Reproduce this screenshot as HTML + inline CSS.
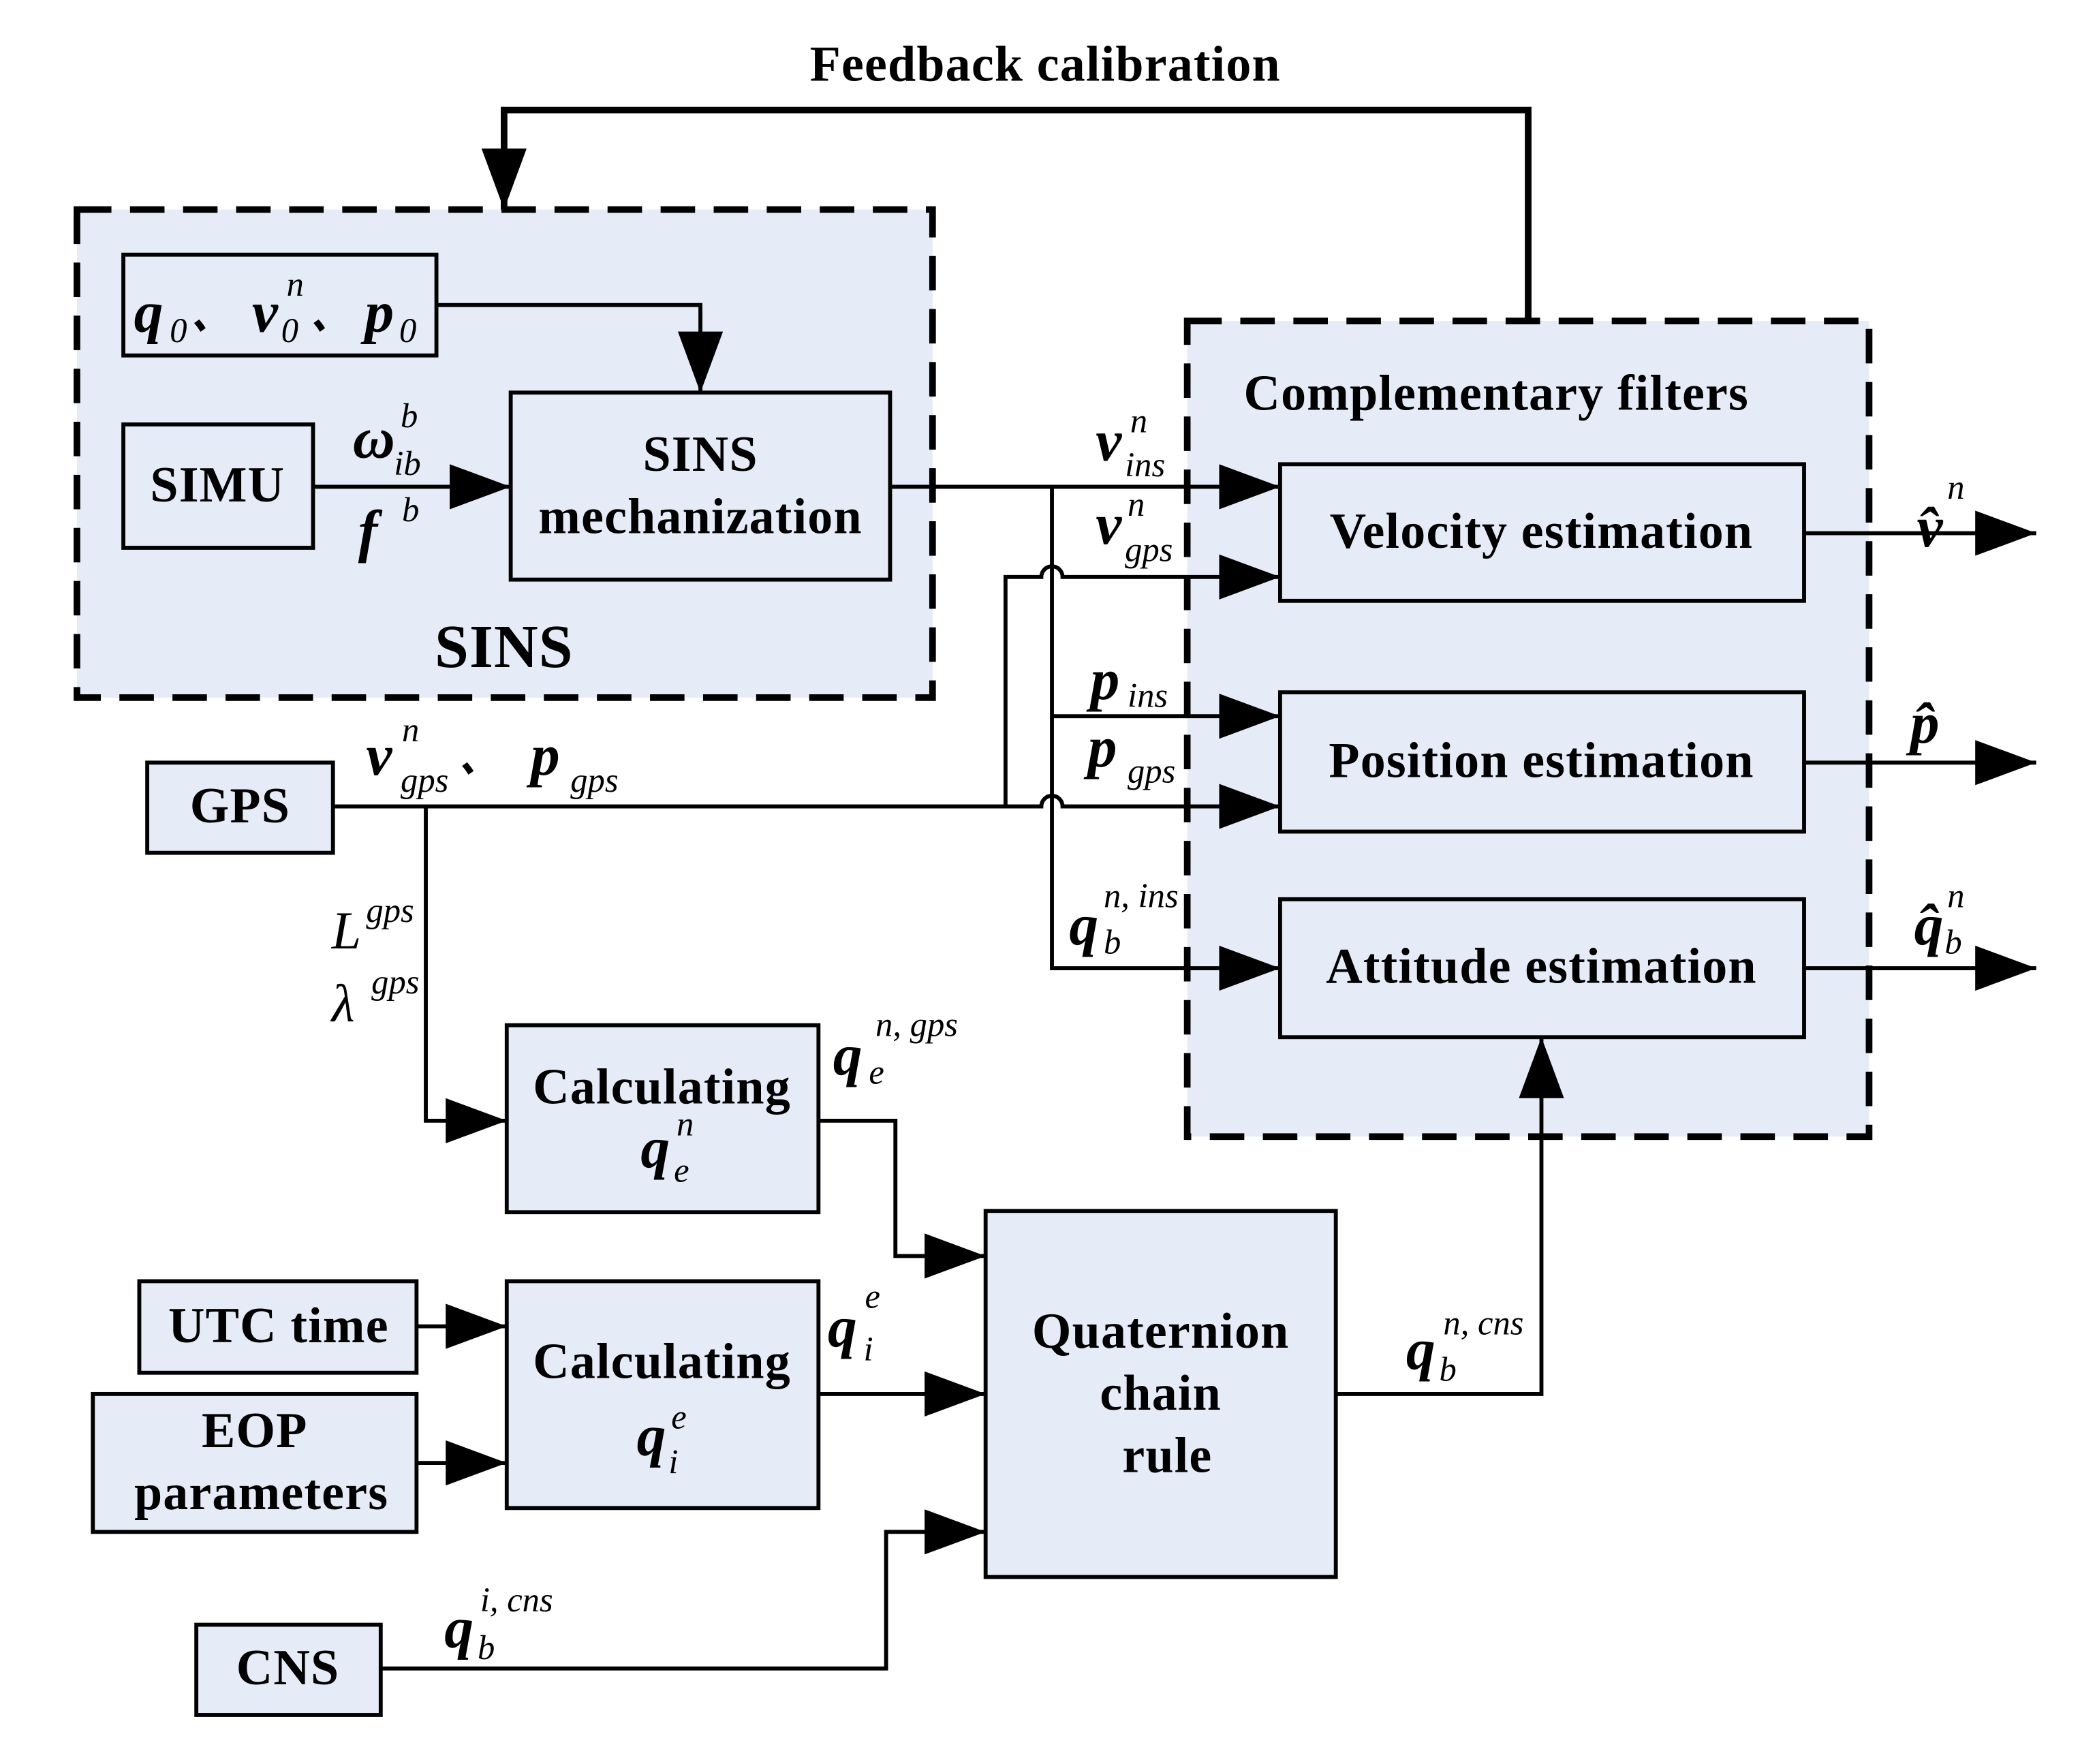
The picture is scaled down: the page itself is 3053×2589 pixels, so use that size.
<!DOCTYPE html>
<html><head><meta charset="utf-8"><style>
html,body{margin:0;padding:0;background:#fff;}
svg{display:block;}
text{font-family:"Liberation Serif",serif;fill:#000;}
.b{font-weight:bold;font-size:38px;letter-spacing:0.6px;}
.m{font-weight:bold;font-style:italic;font-size:44px;}
.s{font-style:italic;font-size:26px;font-weight:normal;}
.u{font-size:26px;font-weight:normal;}
.c{font-family:"Noto Sans CJK SC",sans-serif;font-size:30px;font-weight:bold;}
</style></head><body>
<svg width="3053" height="2589" viewBox="0 0 1568 1330" preserveAspectRatio="none" xmlns="http://www.w3.org/2000/svg">
<defs>
<marker id="a" markerUnits="userSpaceOnUse" markerWidth="48" markerHeight="34" refX="46" refY="17" orient="auto">
<polygon points="0,0 46,17 0,34" fill="#000"/></marker>
</defs>
<g fill="#e6ecf7" stroke="#000" stroke-width="5" stroke-dasharray="26,14">
<rect x="58" y="158" width="645" height="368"/>
<rect x="895" y="242" width="514" height="615"/>
</g>
<g fill="#e6ecf7" stroke="#000" stroke-width="3">
<rect x="93" y="192" width="236" height="76"/>
<rect x="93" y="320" width="143" height="93"/>
<rect x="385" y="296" width="286" height="141"/>
<rect x="965" y="350" width="395" height="103"/>
<rect x="965" y="522" width="395" height="105"/>
<rect x="965" y="678" width="395" height="104"/>
<rect x="111" y="575" width="140" height="68"/>
<rect x="382" y="773" width="235" height="141"/>
<rect x="743" y="913" width="264" height="276"/>
<rect x="105" y="966" width="209" height="69"/>
<rect x="70" y="1051" width="244" height="104"/>
<rect x="382" y="966" width="235" height="171"/>
<rect x="148" y="1225" width="139" height="68"/>
</g>
<g fill="none" stroke="#000" stroke-width="3">
<polyline points="1152,242 1152,83 380,83 380,158" stroke-width="5" marker-end="url(#a)"/>
<polyline points="329,230 528,230 528,296" marker-end="url(#a)"/>
<line x1="236" y1="367" x2="385" y2="367" marker-end="url(#a)"/>
<line x1="671" y1="367" x2="965" y2="367" marker-end="url(#a)"/>
<polyline points="793,367 793,730 965,730" marker-end="url(#a)"/>
<line x1="793" y1="540" x2="965" y2="540" marker-end="url(#a)"/>
<path d="M251,608 H785 A8,8 0 0 1 801,608 H965" marker-end="url(#a)"/>
<path d="M758,608 V435 H785 A8,8 0 0 1 801,435 H965" marker-end="url(#a)"/>
<line x1="1360" y1="402" x2="1535" y2="402" marker-end="url(#a)"/>
<line x1="1360" y1="575" x2="1535" y2="575" marker-end="url(#a)"/>
<line x1="1360" y1="730" x2="1535" y2="730" marker-end="url(#a)"/>
<polyline points="321,608 321,845 382,845" marker-end="url(#a)"/>
<polyline points="617,845 675,845 675,947 743,947" marker-end="url(#a)"/>
<line x1="314" y1="1000" x2="382" y2="1000" marker-end="url(#a)"/>
<line x1="314" y1="1103" x2="382" y2="1103" marker-end="url(#a)"/>
<line x1="617" y1="1051" x2="743" y2="1051" marker-end="url(#a)"/>
<polyline points="287,1258 668,1258 668,1155 743,1155" marker-end="url(#a)"/>
<polyline points="1007,1051 1162,1051 1162,782" marker-end="url(#a)"/>
</g>
<g class="b" text-anchor="middle">
<text x="788" y="61">Feedback calibration</text>
<text x="1128" y="309">Complementary filters</text>
<text x="164" y="378">SIMU</text>
<text x="528" y="355">SINS</text>
<text x="528" y="402">mechanization</text>
<text x="380" y="503" font-size="46">SINS</text>
<text x="1162" y="413">Velocity estimation</text>
<text x="1162" y="586">Position estimation</text>
<text x="1162" y="741">Attitude estimation</text>
<text x="181" y="620">GPS</text>
<text x="499" y="832">Calculating</text>
<text x="499" y="1039">Calculating</text>
<text x="875" y="1016">Quaternion</text>
<text x="875" y="1063">chain</text>
<text x="880" y="1110">rule</text>
<text x="210" y="1012">UTC time</text>
<text x="192" y="1091">EOP</text>
<text x="197" y="1138">parameters</text>
<text x="217" y="1270">CNS</text>
</g>
<g class="m">
<text x="101" y="250">q</text><text class="u" x="128" y="258">0</text><text class="c" x="144" y="248">、</text>
<text x="190" y="250">v</text><text class="s" x="216" y="223">n</text><text class="u" x="212" y="258">0</text><text class="c" x="234" y="248">、</text>
<text x="275" y="250">p</text><text class="u" x="301" y="258">0</text>
<text x="266" y="345">ω</text><text class="s" x="302" y="322">b</text><text class="s" x="297" y="358">ib</text>
<text x="270" y="415">f</text><text class="s" x="303" y="393">b</text>
<text x="826" y="347">v</text><text class="s" x="852" y="326">n</text><text class="s" x="848" y="359">ins</text>
<text x="826" y="410">v</text><text class="s" x="850" y="389">n</text><text class="s" x="848" y="423">gps</text>
<text x="822" y="527">p</text><text class="s" font-size="30" x="850" y="533">ins</text>
<text x="820" y="578">p</text><text class="s" font-size="30" x="850" y="590">gps</text>
<text x="806" y="712">q</text><text class="s" x="832" y="684">n, ins</text><text class="s" x="832" y="719">b</text>
<text x="1445" y="412">v̂</text><text class="s" x="1468" y="376">n</text>
<text x="1440" y="560">p̂</text>
<text x="1443" y="712">q̂</text><text class="s" x="1468" y="684">n</text><text class="s" x="1466" y="719">b</text>
<text x="276" y="584">v</text><text class="s" x="303" y="559">n</text><text class="s" x="302" y="597">gps</text><text class="c" x="346" y="582">、</text>
<text x="400" y="584">p</text><text class="s" font-size="30" x="430" y="597">gps</text>
<text x="250" y="715" font-weight="normal" font-size="40">L</text><text class="s" x="276" y="695">gps</text>
<text x="250" y="770" font-weight="normal" font-size="40">λ</text><text class="s" x="280" y="749">gps</text>
<text x="628" y="810">q</text><text class="s" x="660" y="781">n, gps</text><text class="s" x="655" y="817">e</text>
<text x="483" y="880">q</text><text class="s" x="510" y="856">n</text><text class="s" x="508" y="891">e</text>
<text x="624" y="1015">q</text><text class="s" x="652" y="986">e</text><text class="s" x="651" y="1026">i</text>
<text x="480" y="1097">q</text><text class="s" x="506" y="1077">e</text><text class="s" x="504" y="1111">i</text>
<text x="1060" y="1032">q</text><text class="s" x="1088" y="1006">n, cns</text><text class="s" x="1085" y="1041">b</text>
<text x="335" y="1242">q</text><text class="s" x="362" y="1215">i, cns</text><text class="s" x="360" y="1251">b</text>
</g>
</svg>
</body></html>
